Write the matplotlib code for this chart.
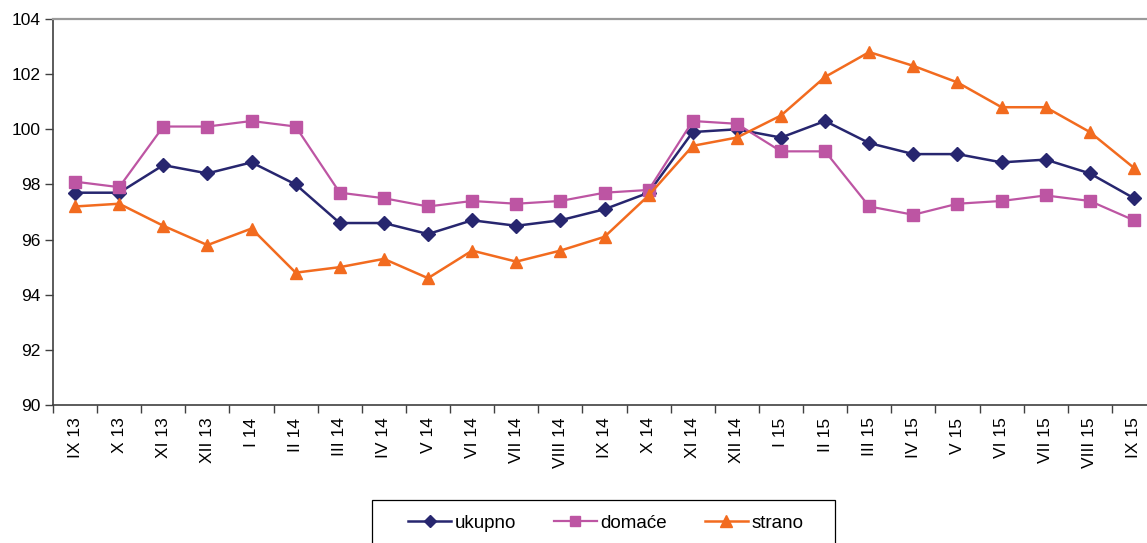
import matplotlib.pyplot as plt
from matplotlib.patches import Rectangle
import numpy as np

plt.rcParams['font.family'] = ['Liberation Sans', 'DejaVu Sans']

# month labels, Sept 2013 .. Sept 2015
months = ["IX 13", "X 13", "XI 13", "XII 13", "I 14", "II 14", "III 14", "IV 14",
          "V 14", "VI 14", "VII 14", "VIII 14", "IX 14", "X 14", "XI 14", "XII 14",
          "I 15", "II 15", "III 15", "IV 15", "V 15", "VI 15", "VII 15", "VIII 15", "IX 15"]

ukupno = [97.7, 97.7, 98.7, 98.4, 98.8, 98.0, 96.6, 96.6, 96.2, 96.7, 96.5, 96.7,
          97.1, 97.7, 99.9, 100.0, 99.7, 100.3, 99.5, 99.1, 99.1, 98.8, 98.9, 98.4, 97.5]
domace = [98.1, 97.9, 100.1, 100.1, 100.3, 100.1, 97.7, 97.5, 97.2, 97.4, 97.3, 97.4,
          97.7, 97.8, 100.3, 100.2, 99.2, 99.2, 97.2, 96.9, 97.3, 97.4, 97.6, 97.4, 96.7]
strano = [97.2, 97.3, 96.5, 95.8, 96.4, 94.8, 95.0, 95.3, 94.6, 95.6, 95.2, 95.6,
          96.1, 97.6, 99.4, 99.7, 100.5, 101.9, 102.8, 102.3, 101.7, 100.8, 100.8, 99.9, 98.6]

y_ticks = [90, 92, 94, 96, 98, 100, 102, 104]

W, H = 1147, 543
fig = plt.figure(figsize=(W / 100, H / 100), dpi=100)
# right edge of the plot runs past the picture, as in the original
ax = fig.add_axes([53 / W, 1 - 405 / H, 1103 / W, 386 / H])

x = np.arange(len(months))
ax.plot(x, ukupno, color='#27266f', lw=1.8, marker='D', ms=7, label='ukupno')
ax.plot(x, domace, color='#bd55a3', lw=1.6, marker='s', ms=8, label='domaće')
ax.plot(x, strano, color='#f26b1f', lw=1.8, marker='^', ms=9, label='strano')

ax.set_xlim(-0.5, len(months) - 0.5)
ax.set_ylim(90, 104)
ax.set_yticks(y_ticks)
ax.tick_params(axis='y', labelsize=12.5, length=6, width=1, color='#404040', pad=3)

# ticks on category boundaries, labels on the centres
ax.set_xticks(np.arange(len(months) + 1) - 0.5)
ax.set_xticklabels([])
ax.set_xticks(x, minor=True)
ax.set_xticklabels(months, minor=True, rotation=90, fontsize=12.5)
ax.tick_params(axis='x', which='major', length=6, width=1, color='#404040')
ax.tick_params(axis='x', which='minor', length=0, pad=9)

for side in ['left', 'bottom']:
    ax.spines[side].set_color('#404040')
    ax.spines[side].set_linewidth(1.2)
ax.spines['top'].set_color('#9a9a9a')
ax.spines['top'].set_linewidth(1.6)
ax.spines['right'].set_visible(False)

# legend box, cut off by the bottom edge like the original
fig.patches.append(Rectangle((372 / W, -0.05), (835 - 372) / W, 0.05 + 1 - 500 / H,
                             transform=fig.transFigure, fill=False,
                             edgecolor='black', lw=0.9))
leg = fig.legend(loc='center left', bbox_to_anchor=(408 / W, 1 - 523 / H), ncol=3,
                 fontsize=13.5, frameon=False, borderaxespad=0, borderpad=0,
                 handlelength=2.3, handletextpad=0.2, columnspacing=2.0,
                 markerscale=0.9)

fig.savefig('out.png', dpi=100)
